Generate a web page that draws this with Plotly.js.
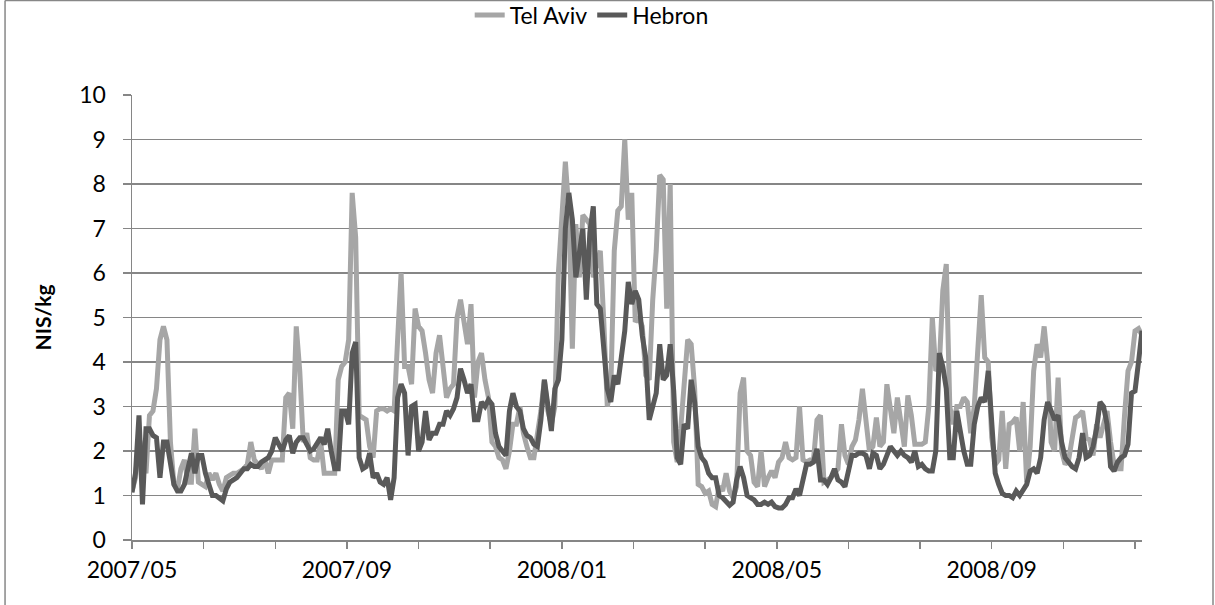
<!DOCTYPE html>
<html>
<head>
<meta charset="utf-8">
<script src="https://cdn.plot.ly/plotly-3.0.1.min.js"></script>
<style>
  html, body { margin: 0; padding: 0; background: #ffffff; }
  #chart { width: 1215px; height: 605px; }
</style>
</head>
<body>
<div id="chart"></div>
<script>
// ---- data ----
var startDate = '2007-05-01';   // first observation
var stepDays = 2;               // observations every 2 days

var telAviv = [
  1.1, 1.4, 2.3, 2.0, 1.5, 2.8, 2.9, 3.4, 4.5, 4.8,
  4.5, 2.2, 1.25, 1.15, 1.6, 1.8, 1.3, 1.3, 2.5, 1.3,
  1.25, 1.2, 1.5, 1.35, 1.5, 1.25, 1.1, 1.4, 1.45, 1.5,
  1.5, 1.55, 1.6, 1.7, 2.2, 1.8, 1.7, 1.6, 1.8, 1.5,
  1.8, 1.8, 1.8, 1.8, 3.2, 3.3, 2.5, 4.8, 3.8, 2.2,
  2.4, 1.85, 1.8, 1.8, 2.2, 1.5, 1.5, 1.5, 1.5, 3.6,
  3.9, 4.0, 4.5, 7.8, 6.8, 2.8, 2.75, 2.7, 2.1, 1.85,
  2.9, 2.95, 2.95, 2.9, 2.95, 2.9, 4.5, 6.0, 3.9, 3.9,
  3.5, 5.2, 4.8, 4.7, 4.2, 3.6, 3.3, 4.2, 4.6, 3.9,
  3.2, 3.4, 3.5, 5.0, 5.4, 4.9, 4.4, 5.3, 3.2, 4.0,
  4.2, 3.6, 3.2, 2.2, 2.1, 1.85, 1.8, 1.6, 2.0, 2.6,
  2.6, 3.0, 2.4, 2.1, 1.85, 1.85, 2.3, 2.9, 3.6, 2.9,
  2.6, 3.0, 6.0, 7.1, 8.5, 7.4, 4.3, 7.1, 5.9, 7.3,
  7.2, 7.1, 5.9, 6.2, 6.5, 4.9, 3.0, 3.4, 6.5, 7.4,
  7.5, 9.0, 7.2, 7.8, 4.9, 5.0, 4.8, 3.7, 3.6, 5.4,
  6.5, 8.2, 8.1, 5.2, 8.0, 2.2, 1.75, 2.5, 3.6, 4.5,
  4.4, 3.4, 1.25, 1.2, 1.05, 1.1, 0.8, 0.75, 1.2, 1.1,
  1.5, 1.1, 0.95, 1.2, 3.3, 3.65, 2.0, 1.9, 1.3, 1.2,
  2.0, 1.2, 1.4, 1.55, 1.4, 1.75, 1.85, 2.2, 1.85, 1.8,
  1.85, 3.0, 1.8, 1.75, 1.8, 1.8, 2.7, 2.8, 1.3, 1.35,
  1.4, 1.5, 1.6, 2.6, 1.9, 1.7, 2.1, 2.25, 2.7, 3.4,
  2.6, 2.0, 2.1, 2.75, 2.1, 2.2, 3.5, 3.0, 2.4, 3.2,
  2.6, 2.1, 3.25, 2.8, 2.15, 2.15, 2.15, 2.2, 3.0, 5.0,
  3.8, 3.9, 5.6, 6.2, 3.0, 2.6, 3.0, 3.0, 3.2, 3.1,
  2.4, 3.0, 4.5, 5.5, 4.1, 4.0, 2.3, 1.7, 1.8, 2.9,
  1.6, 2.6, 2.65, 2.75, 2.0, 3.1, 1.3, 2.1, 3.8, 4.4,
  4.1, 4.8, 4.0, 2.2, 2.0, 3.65, 2.0, 1.7, 1.8, 2.3,
  2.75, 2.8, 2.9, 2.3, 2.25, 1.9, 2.6, 2.3, 2.6, 2.9,
  2.2, 1.7, 1.6, 1.6, 2.8, 3.8, 4.0, 4.7, 4.75, 4.6
];

var hebron = [
  1.07, 1.5, 2.8, 0.8, 2.5, 2.5, 2.35, 2.3, 1.4, 2.2,
  2.2, 1.7, 1.25, 1.1, 1.1, 1.25, 1.6, 1.95, 1.5, 1.9,
  1.9, 1.5, 1.25, 1.0, 1.0, 0.95, 0.88, 1.15, 1.3, 1.35,
  1.4, 1.5, 1.6, 1.6, 1.7, 1.65, 1.65, 1.75, 1.8, 1.85,
  2.0, 2.3, 2.15, 2.0, 2.25, 2.35, 1.95, 2.2, 2.3, 2.3,
  2.15, 2.0, 2.05, 2.2, 2.3, 2.15, 2.5, 2.0, 1.6, 1.6,
  2.9, 2.9, 2.6, 4.2, 4.45, 1.85, 1.6, 1.65, 1.95, 1.4,
  1.5, 1.3, 1.25, 1.4, 0.9, 1.4, 3.2, 3.5, 3.3, 1.9,
  3.0, 3.05, 2.0, 2.2, 2.9, 2.25, 2.4, 2.4, 2.6, 2.6,
  2.9, 2.8, 2.95, 3.2, 3.85, 3.6, 3.3, 3.5, 2.7, 2.7,
  3.1, 3.0, 3.15, 3.05, 2.4, 2.1, 2.0, 1.9, 2.9, 3.3,
  3.0, 2.9, 2.5, 2.35, 2.3, 2.15, 2.1, 2.7, 3.6, 3.0,
  2.45, 3.4, 3.6, 4.5, 7.0, 7.8, 7.2, 5.9, 6.4, 7.0,
  5.4, 6.9, 7.5, 5.3, 5.2, 4.2, 3.4, 3.1, 3.7, 3.5,
  4.2, 4.7, 5.8, 5.3, 5.6, 5.4, 4.6, 4.1, 2.7, 3.05,
  3.3, 4.4, 3.6, 3.7, 4.4, 3.35, 1.85, 1.7, 2.6, 2.5,
  3.6, 3.1, 2.1, 1.85, 1.75, 1.5, 1.4, 1.4, 1.0, 0.95,
  0.88, 0.78, 0.85, 1.35, 1.65, 1.4, 1.0, 0.95, 0.9, 0.8,
  0.8, 0.85, 0.8, 0.85, 0.75, 0.72, 0.72, 0.8, 0.95, 0.95,
  1.15, 1.0, 1.3, 1.7, 1.7, 1.75, 2.05, 1.35, 1.35, 1.25,
  1.4, 1.6, 1.35, 1.3, 1.2, 1.6, 1.9, 1.9, 1.95, 1.95,
  1.9, 1.6, 1.95, 1.9, 1.6, 1.7, 1.9, 2.1, 2.0, 1.9,
  2.0, 1.9, 1.85, 1.75, 2.0, 1.65, 1.7, 1.6, 1.55, 1.55,
  2.0, 4.2, 3.9, 3.4, 1.85, 1.85, 2.9, 2.4, 2.0, 1.7,
  1.7, 2.6, 3.0, 3.2, 3.1, 3.8, 2.5, 1.5, 1.25, 1.05,
  1.0, 1.0, 0.95, 1.1, 1.0, 1.15, 1.25, 1.55, 1.6, 1.5,
  1.85, 2.7, 3.1, 2.9, 2.7, 2.8, 2.2, 1.85, 1.75, 1.65,
  1.6, 1.85, 2.4, 1.85, 1.9, 2.1, 2.5, 3.1, 3.0, 2.6,
  1.65, 1.55, 1.75, 1.85, 1.9, 2.15, 3.3, 3.35, 4.0, 4.7
];

// category-style ticks: one every 41 days, labelled every third
var tickDays   = [0, 41, 82, 123, 164, 205, 246, 287, 328, 369, 410, 451, 492, 533, 574];
var tickLabels = ['2007/05', '', '', '2007/09', '', '', '2008/01', '', '', '2008/05', '', '', '2008/09', '', ''];
var seriesNames = ['Tel Aviv', 'Hebron'];

// ---- build dates ----
function addDays(iso, n) {
  var p = iso.split('-');
  var t = Date.UTC(+p[0], +p[1] - 1, +p[2]) + n * 86400000;
  return new Date(t).toISOString().slice(0, 10);
}
var dates = telAviv.map(function (_, i) { return addDays(startDate, i * stepDays); });
var tickVals = tickDays.map(function (d) { return addDays(startDate, d); });
var xEnd = dates[dates.length - 1];

var FONT = 'Lato, "Open Sans", "Liberation Sans", sans-serif';
var GRID = '#868686';

var traces = [
  { x: dates, y: telAviv, name: seriesNames[0], type: 'scatter', mode: 'lines',
    line: { color: '#A6A6A6', width: 5 } },
  { x: dates, y: hebron, name: seriesNames[1], type: 'scatter', mode: 'lines',
    line: { color: '#595959', width: 5 } }
];

var layout = {
  width: 1215, height: 605,
  margin: { l: 132, r: 73, t: 95, b: 65, pad: 0, autoexpand: false },
  paper_bgcolor: '#ffffff', plot_bgcolor: '#ffffff',
  font: { family: FONT, size: 22, color: '#000000' },
  showlegend: true,
  legend: {
    orientation: 'h', xref: 'container', yref: 'container',
    x: 0.487, xanchor: 'center', y: 0.975, yanchor: 'middle',
    font: { family: FONT, size: 23, color: '#000000' },
    bgcolor: 'rgba(0,0,0,0)', itemwidth: 30, tracegroupgap: 0
  },
  xaxis: {
    type: 'date', range: [startDate, xEnd],
    tickmode: 'array', tickvals: tickVals, ticktext: tickLabels,
    showgrid: false, zeroline: false,
    showline: true, linecolor: GRID, linewidth: 1.5,
    ticks: 'outside', ticklen: 7, tickcolor: GRID, tickwidth: 1.5,
    tickfont: { family: FONT, size: 23, color: '#000000' },
    ticklabelstandoff: 2
  },
  yaxis: {
    range: [0, 10], dtick: 1, tick0: 0,
    showgrid: true, gridcolor: GRID, gridwidth: 1.3, zeroline: false,
    showline: true, linecolor: GRID, linewidth: 1.5,
    ticks: 'outside', ticklen: 8, tickcolor: GRID, tickwidth: 1.3,
    tickfont: { family: FONT, size: 23, color: '#000000' },
    ticklabelstandoff: 12,
    title: { text: '<b>NIS/kg</b>', font: { family: FONT, size: 21, color: '#000000' }, standoff: 22 }
  },
  shapes: [
    { type: 'line', xref: 'paper', yref: 'paper', x0: -0.1257, x1: -0.1257, y0: -0.2, y1: 1.2126,
      line: { color: '#878787', width: 1.5 } },
    { type: 'line', xref: 'paper', yref: 'paper', x0: -0.1257, x1: 1.0703, y0: 1.2126, y1: 1.2126,
      line: { color: '#878787', width: 1.5 } },
    { type: 'line', xref: 'paper', yref: 'paper', x0: 1.0703, x1: 1.0703, y0: -0.2, y1: 1.2126,
      line: { color: '#878787', width: 1.5 } }
  ]
};

Plotly.newPlot('chart', traces, layout, { displayModeBar: false, staticPlot: true });
</script>
</body>
</html>
